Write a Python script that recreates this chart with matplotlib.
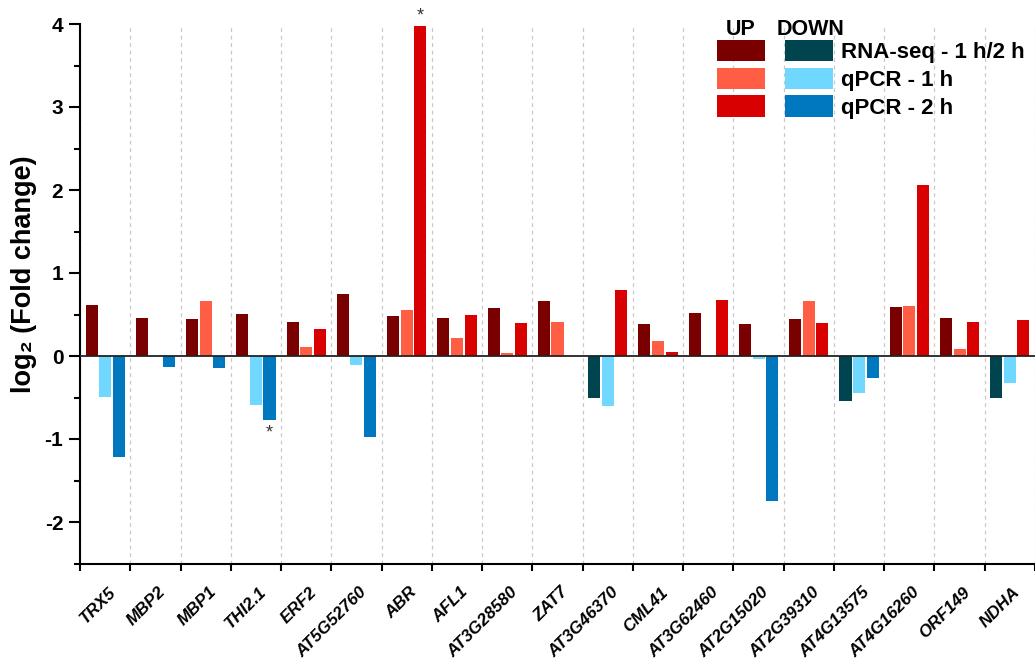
import numpy as np
import matplotlib
matplotlib.use("Agg")
import matplotlib.pyplot as plt
import matplotlib.transforms as mtransforms
from matplotlib.patches import Patch, Rectangle
from matplotlib.ticker import FixedLocator, MultipleLocator

plt.rcParams["font.family"] = ["Liberation Sans", "DejaVu Sans"]
plt.rcParams["font.weight"] = "bold"
plt.rcParams["axes.unicode_minus"] = False

genes = ["TRX5", "MBP2", "MBP1", "THI2.1", "ERF2", "AT5G52760", "ABR", "AFL1",
         "AT3G28580", "ZAT7", "AT3G46370", "CML41", "AT3G62460", "AT2G15020",
         "AT2G39310", "AT4G13575", "AT4G16260", "ORF149", "NDHA"]

# log2 fold change per gene
rna_seq = [0.61, 0.46, 0.45, 0.51, 0.415, 0.75, 0.48, 0.46, 0.58, 0.66,
           -0.51, 0.38, 0.52, 0.38, 0.45, -0.54, 0.59, 0.46, -0.51]
qpcr_1h = [-0.49, 0.0, 0.66, -0.59, 0.11, -0.11, 0.56, 0.22, 0.04, 0.41,
           -0.60, 0.18, 0.0, -0.04, 0.66, -0.44, 0.60, 0.09, -0.32]
qpcr_2h = [-1.22, -0.13, -0.145, -0.77, 0.32, -0.98, 3.97, 0.50, 0.40, 0.0,
           0.80, 0.05, 0.68, -1.75, 0.40, -0.27, 2.06, 0.41, 0.43]

series_names = ["RNA-seq - 1 h/2 h", "qPCR - 1 h", "qPCR - 2 h"]
up_colors = ["#7a0000", "#ff5e45", "#d80000"]
down_colors = ["#00444f", "#70d8ff", "#0078c0"]

# (gene index, series index) flagged with an asterisk
starred = [(6, 2), (3, 2)]

fig = plt.figure(figsize=(10.35, 6.6), dpi=100)
ax = fig.add_axes([80 / 1035, 1 - 563.5 / 660, 955 / 1035, 539.5 / 660])

x = np.arange(len(genes))
width = 0.24
offsets = [-0.27, 0.0, 0.27]
all_series = [rna_seq, qpcr_1h, qpcr_2h]

for s, vals in enumerate(all_series):
    colors = [up_colors[s] if v >= 0 else down_colors[s] for v in vals]
    ax.bar(x + offsets[s], vals, width, color=colors, zorder=2)

for g, s in starred:
    v = all_series[s][g]
    if v >= 0:
        ax.text(x[g] + offsets[s], v + 0.02, "*", ha="center", va="bottom",
                fontsize=13, color="#333333", fontweight="normal")
    else:
        ax.text(x[g] + offsets[s], v - 0.05, "*", ha="center", va="top",
                fontsize=13, color="#333333", fontweight="normal")

ax.axhline(0, color="#222222", lw=1.3, zorder=3)

ax.set_xlim(-0.5, len(genes) - 0.5)
ax.set_ylim(-2.5, 4)

# gene names centred, ticks and dashed grid on the boundaries
ax.xaxis.set_major_locator(FixedLocator(x))
ax.xaxis.set_minor_locator(FixedLocator(np.arange(-0.5, len(genes), 1)))
ax.set_xticklabels(genes, rotation=45, ha="right", va="top",
                   rotation_mode="anchor", fontsize=12.3, fontstyle="italic")
ax.tick_params(axis="x", which="major", length=0, pad=15)
ax.tick_params(axis="x", which="minor", length=5, width=1.5, direction="out")
shift = mtransforms.ScaledTranslation(2 / 72, 0, fig.dpi_scale_trans)
for lab in ax.get_xticklabels():
    lab.set_transform(lab.get_transform() + shift)
ax.grid(axis="x", which="minor", color="#c8c8c8", lw=0.9, ls=(0, (3, 3)), zorder=0)

ax.yaxis.set_major_locator(MultipleLocator(1))
ax.yaxis.set_minor_locator(MultipleLocator(0.5))
ax.tick_params(axis="y", which="major", length=8, width=1.5, labelsize=15, pad=4)
ax.tick_params(axis="y", which="minor", length=4, width=1.5)

for side in ("top", "right"):
    ax.spines[side].set_visible(False)
for side in ("left", "bottom"):
    ax.spines[side].set_linewidth(1.5)

ax.set_ylabel("log\u2082 (Fold change)", fontsize=19.5, fontweight="bold")
ax.yaxis.set_label_coords(-0.045, 0.536)

# white block behind the key so the grid does not run through it
ax.add_patch(Rectangle((700 / 1035, 1 - 130 / 660), 335 / 1035, 130 / 660,
                       transform=fig.transFigure, fc="white", ec="none",
                       zorder=1, clip_on=False))

handles = [Patch(fc=c) for c in up_colors] + [Patch(fc=c) for c in down_colors]
labels = [""] * 3 + series_names
leg = ax.legend(handles, labels, ncol=2, loc="upper left",
                bbox_to_anchor=(687 / 1035, 1 - 10 / 660), bbox_transform=fig.transFigure,
                handlelength=2.15, handleheight=1.1, handletextpad=0.4,
                columnspacing=0.5, labelspacing=0.2, borderpad=1.35,
                borderaxespad=0, fontsize=16, frameon=False)

# column headers above the two swatch columns
fig.text(741 / 1035, 1 - 35 / 660, "UP", ha="center", va="baseline",
         fontsize=15.5, fontweight="bold")
fig.text(811 / 1035, 1 - 35 / 660, "DOWN", ha="center", va="baseline",
         fontsize=15.5, fontweight="bold")

fig.savefig("out.png", dpi=100)
